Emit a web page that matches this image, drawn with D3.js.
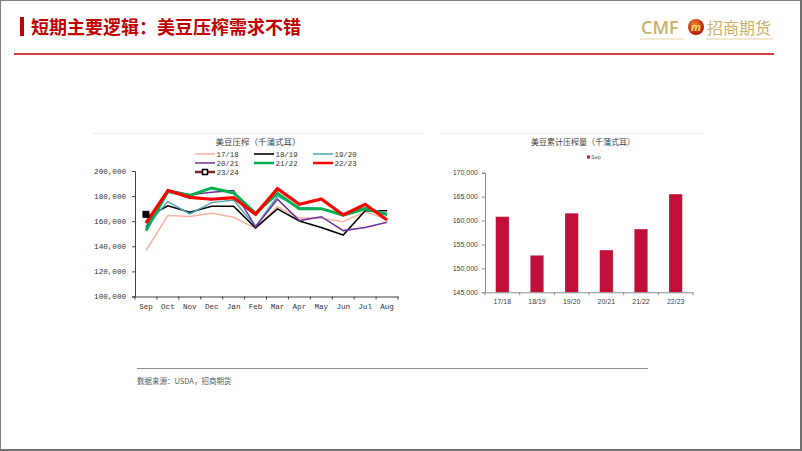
<!DOCTYPE html>
<html><head><meta charset="utf-8">
<script src="https://cdn.jsdelivr.net/npm/d3@7"></script>
<style>body{margin:0;background:#fff}svg{display:block}</style>
</head><body>
<svg id="c" width="802" height="451"></svg>
<script>
// ---------- data ----------
const months = ["Sep","Oct","Nov","Dec","Jan","Feb","Mar","Apr","May","Jun","Jul","Aug"];
const seriesNames = ["17/18","18/19","19/20","20/21","21/22","22/23","23/24"];
const s1718 = [136.6,164.5,163.7,166.3,163.1,154.4,171.5,162.5,162.3,159.6,167.5,161.5];
const s1819 = [163.0,172.3,167.1,171.9,171.9,154.6,169.8,160.2,154.9,148.9,168.3,168.3];
const s1920 = [155.7,175.6,165.8,174.8,176.9,155.7,180.0,171.0,170.0,166.0,171.0,166.0];
const s2021 = [155.0,184.9,181.0,183.0,184.5,155.7,177.5,160.5,163.6,152.5,154.9,159.2];
const s2122 = [152.6,183.6,180.6,186.5,182.5,166.3,182.2,170.0,170.0,164.8,169.8,165.3];
const s2223 = [158.4,184.4,179.0,177.5,178.8,165.5,185.9,173.5,177.7,165.0,173.5,161.0];
const s2324 = [165.5];
const yTicksLine = [100000,120000,140000,160000,180000,200000];

const barCats = ["17/18","18/19","19/20","20/21","21/22","22/23"];
const barVals = [160800,152700,161500,153800,158200,165500];
const yTicksBar = [145000,150000,155000,160000,165000,170000];

// ---------- setup ----------
const svg = d3.select("#c");
const fmt = d3.format(",");
const cjk = "'Noto Sans CJK SC','Noto Sans',sans-serif";
const mono = "'Liberation Mono','DejaVu Sans Mono',monospace";
const sans = "'Liberation Sans',Arial,sans-serif";

// frame
svg.append("rect").attr("x",0.5).attr("y",0.5).attr("width",800.5).attr("height",449.5)
  .attr("fill","none").attr("stroke","#7f7f7f").attr("stroke-width",1);
svg.append("line").attr("x1",801).attr("x2",801).attr("y1",0).attr("y2",451).attr("stroke","#6f6f6f").attr("stroke-width",2);
svg.append("line").attr("x1",0).attr("x2",802).attr("y1",450).attr("y2",450).attr("stroke","#6f6f6f").attr("stroke-width",2);

// header
svg.append("rect").attr("x",20).attr("y",17).attr("width",4).attr("height",19).attr("fill","#C00000");
svg.append("text").attr("x",31).attr("y",34).attr("font-family",cjk).attr("font-weight","bold")
  .attr("font-size",18).attr("fill","#C00000").text("短期主要逻辑：美豆压榨需求不错");
svg.append("line").attr("x1",14).attr("x2",774).attr("y1",54).attr("y2",54).attr("stroke","#C00000").attr("stroke-width",1.5);
// logo
svg.append("text").attr("x",641).attr("y",34).attr("font-family","'Open Sans','Liberation Sans',sans-serif")
  .attr("font-size",18).attr("fill","#CDAE6A").attr("font-weight","600").text("CMF");
svg.append("line").attr("x1",640).attr("x2",684).attr("y1",39).attr("y2",39).attr("stroke","#E2D2A8").attr("stroke-width",1);
const grad = svg.append("defs").append("radialGradient").attr("id","lg").attr("cx","40%").attr("cy","35%").attr("r","65%");
grad.append("stop").attr("offset","0%").attr("stop-color","#F08A2A");
grad.append("stop").attr("offset","100%").attr("stop-color","#B0140C");
svg.append("circle").attr("cx",696).attr("cy",27).attr("r",8).attr("fill","url(#lg)");
svg.append("text").attr("x",696).attr("y",31).attr("text-anchor","middle").attr("font-family",sans)
  .attr("font-weight","bold").attr("font-style","italic").attr("font-size",11).attr("fill","#FFE27A").text("m");
svg.append("text").attr("x",707).attr("y",34).attr("font-family",cjk).attr("font-size",16)
  .attr("fill","#CDAE6A").text("招商期货");
svg.append("line").attr("x1",706).attr("x2",773).attr("y1",39).attr("y2",39).attr("stroke","#E2D2A8").attr("stroke-width",1);

// faint panel separators
svg.append("line").attr("x1",93).attr("x2",422).attr("y1",133.5).attr("y2",133.5).attr("stroke","#ececec");
svg.append("line").attr("x1",440).attr("x2",702).attr("y1",133.5).attr("y2",133.5).attr("stroke","#ececec");

// ---------- line chart ----------
const x = d3.scaleBand().domain(months).range([135,398]);
const y = d3.scaleLinear().domain([100000,200000]).range([296.5,171]);

svg.append("text").attr("x",258).attr("y",145).attr("text-anchor","middle").attr("font-family",cjk)
  .attr("font-size",8.5).attr("fill","#404040").text("美豆压榨（千蒲式耳）");

const yAx = svg.append("g").attr("transform","translate(135,0)")
  .call(d3.axisLeft(y).tickValues(yTicksLine).tickFormat(fmt).tickSize(3).tickPadding(6));
const xAx = svg.append("g").attr("transform","translate(0,296.5)")
  .call(d3.axisBottom(x).tickSize(0).tickPadding(6));
[yAx,xAx].forEach(g=>{
  g.select(".domain").attr("stroke","#404040");
  g.selectAll("line").attr("stroke","#404040");
  g.selectAll("text").attr("font-family",mono).attr("font-size",7.6).attr("fill","#333");
});
xAx.selectAll(".tick text").attr("dy","0.9em");
// x-axis boundary ticks
xAx.selectAll(".bt").data(months.concat(["_end"])).enter().append("line")
  .attr("x1",(d,i)=>135+i*x.step()).attr("x2",(d,i)=>135+i*x.step())
  .attr("y1",0).attr("y2",3).attr("stroke","#404040");

const series = [
  {name:"17/18", vals:s1718, color:"#F7B3A0", w:1.5},
  {name:"18/19", vals:s1819, color:"#000000", w:1.6},
  {name:"19/20", vals:s1920, color:"#4BA3B4", w:1.5},
  {name:"20/21", vals:s2021, color:"#7030A0", w:1.5},
  {name:"21/22", vals:s2122, color:"#00B050", w:3},
  {name:"22/23", vals:s2223, color:"#FF0000", w:3.2},
  {name:"23/24", vals:s2324, color:"#7F2A1E", w:2.5, marker:true}
];
const line = d3.line().x((d,i)=>x(months[i])+x.bandwidth()/2).y(d=>y(d*1000));
series.forEach(s=>{
  if(s.vals.length>1){
    svg.append("path").datum(s.vals).attr("d",line).attr("fill","none")
      .attr("stroke",s.color).attr("stroke-width",s.w).attr("stroke-linejoin","miter");
  }
  if(s.marker){
    s.vals.forEach((v,i)=>{
      const cx = x(months[i])+x.bandwidth()/2, cy = y(v*1000);
      svg.append("rect").attr("x",cx-3.5).attr("y",cy-3.5).attr("width",7).attr("height",7).attr("fill","#000");
    });
  }
});

// legend
const legPos = [[195,154],[254,154],[313,154],[195,163],[254,163],[313,163],[195,172]];
series.forEach((s,i)=>{
  const [lx,ly] = legPos[i];
  svg.append("line").attr("x1",lx).attr("x2",lx+20).attr("y1",ly).attr("y2",ly)
    .attr("stroke",s.color).attr("stroke-width",Math.min(s.w,2.5));
  if(s.marker){
    svg.append("rect").attr("x",lx+7.5).attr("y",ly-2.5).attr("width",5).attr("height",5)
      .attr("fill","#fff").attr("stroke","#000").attr("stroke-width",1.5);
  }
  svg.append("text").attr("x",lx+21.5).attr("y",ly+2.6).attr("font-family",mono).attr("font-size",7.4)
    .attr("fill","#333").text(s.name);
});

// ---------- bar chart ----------
const xb = d3.scaleBand().domain(barCats).range([485,693]).paddingInner(0.62).paddingOuter(0.31);
const yb = d3.scaleLinear().domain([145000,170000]).range([292.3,172.7]);

svg.append("text").attr("x",583).attr("y",145).attr("text-anchor","middle").attr("font-family",cjk)
  .attr("font-size",8).attr("fill","#404040").text("美豆累计压榨量（千蒲式耳）");
svg.append("rect").attr("x",587).attr("y",155.5).attr("width",3).attr("height",3).attr("fill","#C0103A");
svg.append("text").attr("x",591).attr("y",159).attr("font-family",sans).attr("font-size",5.5)
  .attr("fill","#595959").text("Sep");

svg.selectAll(".bar").data(barVals).enter().append("rect")
  .attr("x",(d,i)=>xb(barCats[i])).attr("width",xb.bandwidth())
  .attr("y",d=>yb(d)).attr("height",d=>yb(145000)-yb(d)).attr("fill","#C0103A");

const ybAx = svg.append("g").attr("transform","translate(485,0)")
  .call(d3.axisLeft(yb).tickValues(yTicksBar).tickFormat(fmt).tickSize(3).tickPadding(4));
const xbAx = svg.append("g").attr("transform","translate(0,292.3)")
  .call(d3.axisBottom(xb).tickSize(0).tickPadding(5));
[ybAx,xbAx].forEach(g=>{
  g.select(".domain").attr("stroke","#8c8c8c");
  g.selectAll("line").attr("stroke","#8c8c8c");
  g.selectAll("text").attr("font-family",sans).attr("font-size",7).attr("fill","#404040");
});
xbAx.selectAll(".tick text").attr("dy","0.9em");
xbAx.selectAll(".bt").data(barCats.concat(["_end"])).enter().append("line")
  .attr("x1",(d,i)=>485+i*xb.step()).attr("x2",(d,i)=>485+i*xb.step())
  .attr("y1",0).attr("y2",3).attr("stroke","#8c8c8c");

// ---------- source ----------
svg.append("line").attr("x1",137).attr("x2",648).attr("y1",368.5).attr("y2",368.5).attr("stroke","#8c8c8c").attr("stroke-width",1);
svg.append("text").attr("x",137).attr("y",384).attr("font-family",cjk).attr("font-size",7.5)
  .attr("fill","#595959").text("数据来源：USDA，招商期货");
</script>
</body></html>
